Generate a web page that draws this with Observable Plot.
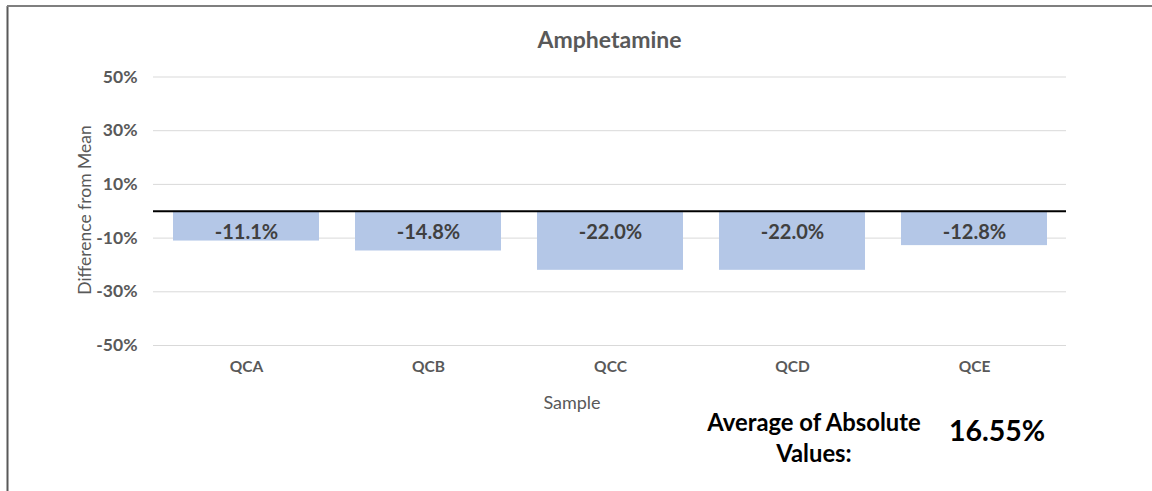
<!DOCTYPE html>
<html>
<head>
<meta charset="utf-8">
<script src="https://cdn.jsdelivr.net/npm/d3@7"></script>
<script src="https://cdn.jsdelivr.net/npm/@observablehq/plot@0.6"></script>
<style>
  html, body { margin: 0; padding: 0; background: #fff; }
  #chart { position: relative; width: 1152px; height: 491px; }
</style>
</head>
<body>
<div id="chart"></div>
<script>
const samples = ["QCA", "QCB", "QCC", "QCD", "QCE"];
const differences = [-0.111, -0.148, -0.220, -0.220, -0.128];
const yTicks = [-0.5, -0.3, -0.1, 0.1, 0.3, 0.5];
const titleText = "Amphetamine";
const yLabel = "Difference from Mean";
const xLabel = "Sample";
const avgLabelLines = ["Average of Absolute", "Values:"];
const avgValue = "16.55%";

const data = samples.map((s, i) => ({sample: s, value: differences[i]}));
const font = "Lato, 'Open Sans', sans-serif";
const hyphen = f => v => f(v).replace("\u2212", "-");
const pct1 = hyphen(d3.format(".1%"));
const pct0 = hyphen(d3.format(".0%"));

const W = 1152, H = 491;
const mL = 153, mR = 86, mT = 76.5, mB = 146;

const plot = Plot.plot({
  width: W,
  height: H,
  marginLeft: mL,
  marginRight: mR,
  marginTop: mT,
  marginBottom: mB,
  style: {fontFamily: font, fontSize: "16px", background: "transparent", overflow: "visible"},
  x: {domain: samples, paddingInner: 0.2, paddingOuter: 0.1, label: null},
  y: {domain: [-0.5, 0.5], label: null},
  marks: [
    Plot.ruleY(yTicks, {stroke: "#d9d9d9", strokeWidth: 1}),
    Plot.barY(data, {x: "sample", y: "value", fill: "#b4c7e7"}),
    Plot.ruleY([0], {stroke: "#000", strokeWidth: 2}),
    Plot.text(data, {x: "sample", y: () => 0, dy: 21, text: d => pct1(d.value),
      fill: "#404040", fontSize: 20, fontWeight: "bold"}),
    Plot.axisY({ticks: yTicks, tickFormat: pct0, tickSize: 0, tickPadding: 16,
      fontSize: 17.5, fontWeight: "bold", fill: "#595959", label: null}),
    Plot.axisX({tickSize: 0, tickPadding: 15, fontSize: 15.5, fontWeight: "bold",
      fill: "#595959", label: null})
  ]
});

const svg = d3.select(plot);

// Chart border (top and left)
svg.insert("line", ":first-child").attr("x1", 7).attr("x2", W).attr("y1", 6).attr("y2", 6)
  .attr("stroke", "#7f7f7f").attr("stroke-width", 2);
svg.insert("line", ":first-child").attr("x1", 7.5).attr("x2", 7.5).attr("y1", 6).attr("y2", H)
  .attr("stroke", "#595959").attr("stroke-width", 2);

svg.append("text").text(titleText)
  .attr("x", (mL + W - mR) / 2).attr("y", 48)
  .attr("text-anchor", "middle").attr("font-family", font)
  .attr("font-size", 23).attr("font-weight", "bold").attr("fill", "#595959");

svg.append("text").text(yLabel)
  .attr("transform", "translate(91,210) rotate(-90)")
  .attr("text-anchor", "middle").attr("font-family", font)
  .attr("font-size", 17.5).attr("fill", "#595959");

svg.append("text").text(xLabel)
  .attr("x", 572).attr("y", 409)
  .attr("text-anchor", "middle").attr("font-family", font)
  .attr("font-size", 18).attr("fill", "#595959");

avgLabelLines.forEach((t, i) => {
  svg.append("text").text(t)
    .attr("x", 814).attr("y", 431 + i * 31)
    .attr("text-anchor", "middle").attr("font-family", font)
    .attr("font-size", 23.8).attr("font-weight", "bold").attr("fill", "#000");
});
svg.append("text").text(avgValue)
  .attr("x", 997).attr("y", 441)
  .attr("text-anchor", "middle").attr("font-family", font)
  .attr("font-size", 28.5).attr("font-weight", "bold").attr("fill", "#000");

document.getElementById("chart").appendChild(plot);
</script>
</body>
</html>
